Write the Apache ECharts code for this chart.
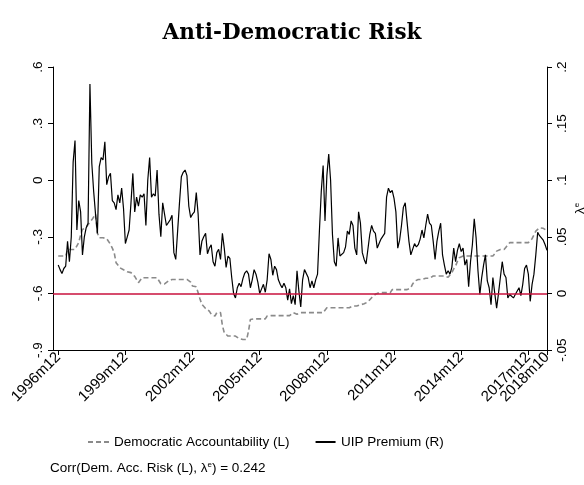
<!DOCTYPE html>
<html><head><meta charset="utf-8">
<script src="https://cdn.jsdelivr.net/npm/echarts@6/dist/echarts.min.js"></script>
<style>html,body{margin:0;padding:0;background:#fff}#c{width:584px;height:485px}</style>
</head><body><div id="c"></div>
<script>
// monthly series starting 1996m12 (index 0) through 2018m10 (index 262)
const uipPremium = [
0.025,0.021,0.0175,0.022,0.024,0.046,0.028,0.05,0.116,0.135,
0.056,0.082,0.072,0.034,0.05,0.058,0.062,0.185,0.115,0.09,
0.07,0.053,0.112,0.12,0.118,0.134,0.096,0.103,0.106,0.082,
0.08,0.074,0.087,0.08,0.093,0.075,0.044,0.05,0.056,0.08,
0.106,0.072,0.085,0.077,0.087,0.085,0.088,0.06,0.1,0.12,
0.085,0.088,0.086,0.109,0.07,0.05,0.08,0.079,0.06,0.061,
0.065,0.069,0.036,0.03,0.055,0.08,0.103,0.107,0.109,0.104,
0.077,0.067,0.07,0.072,0.089,0.07,0.034,0.046,0.05,0.053,
0.035,0.04,0.043,0.028,0.024,0.036,0.039,0.03,0.053,0.04,
0.023,0.033,0.031,0.014,0.0,-0.004,0.005,0.009,0.006,0.013,
0.018,0.02,0.017,0.005,0.012,0.021,0.017,0.01,0.0,0.004,
0.008,0.001,0.012,0.035,0.03,0.016,0.024,0.021,0.012,0.008,
0.005,0.009,0.005,-0.006,0.004,-0.009,-0.002,-0.01,0.02,0.002,
-0.012,0.012,0.021,0.022,0.014,0.005,0.011,0.005,0.012,0.017,
0.055,0.09,0.113,0.064,0.104,0.123,0.1,0.052,0.028,0.024,
0.049,0.033,0.034,0.036,0.041,0.055,0.052,0.064,0.06,0.04,
0.034,0.072,0.062,0.036,0.03,0.026,0.025,0.052,0.06,0.055,
0.053,0.04,0.044,0.048,0.049,0.053,0.085,0.093,0.089,0.091,
0.084,0.072,0.04,0.047,0.06,0.076,0.08,0.063,0.046,0.034,
0.033,0.044,0.041,0.043,0.048,0.056,0.049,0.06,0.07,0.062,
0.06,0.046,0.03,0.046,0.055,0.062,0.034,0.025,0.017,0.02,
0.017,0.023,0.04,0.028,0.038,0.044,0.037,0.04,0.025,0.03,
0.006,0.028,0.043,0.066,0.049,0.02,-0.001,0.014,0.025,0.034,
0.011,0.005,-0.01,0.014,0.0,-0.013,0.0,0.014,0.028,0.017,
0.014,-0.004,-0.001,-0.001,-0.004,-0.001,-0.002,0.005,-0.002,0.008,
0.022,0.025,0.017,-0.007,0.008,0.017,0.034,0.054,0.051,0.049,
0.047,0.043,0.038
];
const demAccountability = [
-0.402,-0.402,-0.402,-0.402,-0.402,-0.367,-0.367,-0.367,-0.367,-0.367,
-0.367,-0.33,-0.29,-0.261,-0.255,-0.25,-0.235,-0.225,-0.21,-0.195,
-0.18,-0.28,-0.305,-0.305,-0.305,-0.31,-0.31,-0.32,-0.34,-0.36,
-0.384,-0.437,-0.45,-0.464,-0.47,-0.475,-0.48,-0.485,-0.49,-0.49,
-0.5,-0.51,-0.52,-0.543,-0.54,-0.517,-0.517,-0.517,-0.517,-0.517,
-0.517,-0.517,-0.517,-0.517,-0.517,-0.549,-0.55,-0.55,-0.54,-0.535,
-0.526,-0.526,-0.526,-0.526,-0.526,-0.526,-0.526,-0.526,-0.526,-0.526,
-0.526,-0.54,-0.561,-0.561,-0.565,-0.596,-0.63,-0.658,-0.667,-0.68,
-0.685,-0.694,-0.71,-0.72,-0.72,-0.702,-0.702,-0.702,-0.77,-0.808,
-0.817,-0.826,-0.826,-0.826,-0.826,-0.826,-0.826,-0.84,-0.844,-0.844,
-0.844,-0.844,-0.8,-0.738,-0.735,-0.735,-0.735,-0.735,-0.735,-0.735,
-0.735,-0.735,-0.72,-0.718,-0.718,-0.718,-0.718,-0.718,-0.718,-0.718,
-0.718,-0.718,-0.718,-0.718,-0.718,-0.718,-0.702,-0.71,-0.71,-0.705,
-0.702,-0.702,-0.702,-0.702,-0.702,-0.702,-0.702,-0.702,-0.702,-0.702,
-0.702,-0.702,-0.702,-0.702,-0.676,-0.676,-0.676,-0.676,-0.676,-0.676,
-0.676,-0.676,-0.676,-0.676,-0.676,-0.676,-0.676,-0.676,-0.667,-0.667,
-0.667,-0.667,-0.66,-0.655,-0.655,-0.655,-0.645,-0.635,-0.623,-0.614,
-0.605,-0.6,-0.596,-0.596,-0.596,-0.596,-0.596,-0.596,-0.596,-0.58,
-0.58,-0.58,-0.58,-0.58,-0.58,-0.58,-0.58,-0.58,-0.58,-0.57,
-0.55,-0.535,-0.526,-0.526,-0.526,-0.526,-0.52,-0.52,-0.52,-0.52,
-0.52,-0.508,-0.508,-0.508,-0.508,-0.508,-0.508,-0.508,-0.515,-0.515,
-0.515,-0.49,-0.47,-0.455,-0.43,-0.411,-0.402,-0.402,-0.402,-0.402,
-0.402,-0.402,-0.402,-0.402,-0.402,-0.402,-0.402,-0.402,-0.402,-0.402,
-0.402,-0.402,-0.402,-0.402,-0.39,-0.376,-0.367,-0.367,-0.367,-0.367,
-0.355,-0.345,-0.331,-0.331,-0.331,-0.331,-0.331,-0.331,-0.331,-0.331,
-0.331,-0.331,-0.331,-0.331,-0.31,-0.29,-0.27,-0.26,-0.252,-0.252,
-0.255,-0.26,-0.268
];
const tickMonths = [0,36,72,108,144,180,216,252];
const tickLabels = ['1996m12','1999m12','2002m12','2005m12','2008m12','2011m12','2014m12','2017m12'];
const lastMonth = 262;
const lastLabel = '2018m10';
const seriesNames = ['Democratic Accountability (L)', 'UIP Premium (R)'];
const corrText = 'Corr(Dem. Acc. Risk (L), λ{s|e}) = 0.242';

function fmt(v){
  let s = (+(+v).toFixed(3)).toString();
  return s.replace(/^(-?)0\./, '$1.');
}
const FONT = 'Liberation Sans, Arial, sans-serif';
const dashIcon = 'path://M0,0h5v2h-5z M8,0h5v2h-5z M16,0h5v2h-5z';
const solidIcon = 'path://M0,0h20v2h-20z';
const xMin = -2.8;
const chart = echarts.init(document.getElementById('c'), null, {renderer:'canvas'});
chart.setOption({
  animation:false,
  backgroundColor:'#fff',
  textStyle:{fontFamily:FONT, color:'#000'},
  title:{text:'Anti-Democratic Risk', left:'center', top:17,
    textStyle:{fontFamily:'DejaVu Serif, serif', fontWeight:'bold', fontSize:21.5, color:'#000'}},
  grid:{left:53, right:37, top:67, bottom:135, outerBoundsMode:'none', containLabel:false},
  legend:{left:88, top:435, padding:0, itemWidth:21, itemHeight:2, itemGap:26,
    textStyle:{fontSize:13.5, color:'#000', fontFamily:FONT},
    data:[{name:seriesNames[0], icon:dashIcon, itemStyle:{color:'#8a8a8a'}},
          {name:seriesNames[1], icon:solidIcon, itemStyle:{color:'#000'}}]},
  graphic:[
    {type:'text', left:50, top:461, style:{text:corrText, font:'13.5px '+FONT, fill:'#000',
      rich:{s:{fontSize:8, verticalAlign:'top', fontFamily:FONT, padding:[0,0,6,0]}}}}
  ],
  xAxis:[
    {type:'value', min:xMin, max:lastMonth, position:'bottom',
     axisLine:{show:true, onZero:false, lineStyle:{color:'#000', width:1}},
     axisTick:{show:true, customValues:tickMonths, length:5, lineStyle:{color:'#000'}},
     axisLabel:{customValues:tickMonths, rotate:45, fontSize:15, color:'#000', margin:5,
       showMaxLabel:true, showMinLabel:true, hideOverlap:false,
       formatter:v=>tickLabels[tickMonths.indexOf(v)]},
     splitLine:{show:false}},
    {type:'value', min:xMin, max:lastMonth, position:'bottom', offset:0,
     axisLine:{show:false, onZero:false},
     axisTick:{show:true, customValues:[lastMonth], length:5, lineStyle:{color:'#000'}},
     axisLabel:{customValues:[lastMonth], rotate:45, fontSize:15, color:'#000', margin:5,
       showMaxLabel:true, formatter:()=>lastLabel},
     splitLine:{show:false}}
  ],
  yAxis:[
    {type:'value', position:'left', min:-0.9, max:0.6, interval:0.3,
     axisLine:{show:true, onZero:false, lineStyle:{color:'#000'}},
     axisTick:{show:true, length:5, lineStyle:{color:'#000'}},
     axisLabel:{rotate:90, fontSize:13.5, color:'#000', margin:8, formatter:fmt},
     splitLine:{show:false}},
    {type:'value', position:'right', min:-0.05, max:0.2, interval:0.05,
     name:'{l|λ}{s|e}', nameLocation:'middle', nameRotate:90, nameGap:26, nameMoveOverlap:false,
     nameTextStyle:{rich:{l:{fontSize:13.5, color:'#000'}, s:{fontSize:8, verticalAlign:'top', color:'#000', padding:[0,0,6,0]}}},
     axisLine:{show:true, onZero:false, lineStyle:{color:'#000'}},
     axisTick:{show:true, length:5, lineStyle:{color:'#000'}},
     axisLabel:{rotate:90, fontSize:13.5, color:'#000', margin:8, formatter:fmt},
     splitLine:{show:false}}
  ],
  series:[
    {name:seriesNames[0], type:'line', xAxisIndex:0, yAxisIndex:0, showSymbol:false, symbol:'none',
     data:demAccountability.map((v,i)=>[i,v]), color:'#8a8a8a',
     lineStyle:{color:'#8a8a8a', width:1.6, type:[5,3]}, z:2},
    {name:seriesNames[1], type:'line', xAxisIndex:0, yAxisIndex:1, showSymbol:false, symbol:'none',
     data:uipPremium.map((v,i)=>[i,v]), color:'#000',
     lineStyle:{color:'#000', width:1.2}, z:3,
     markLine:{silent:true, symbol:'none', label:{show:false},
       lineStyle:{color:'#c8103c', width:1.6, type:'solid'}, data:[{yAxis:0}]}}
  ]
});
</script></body></html>
